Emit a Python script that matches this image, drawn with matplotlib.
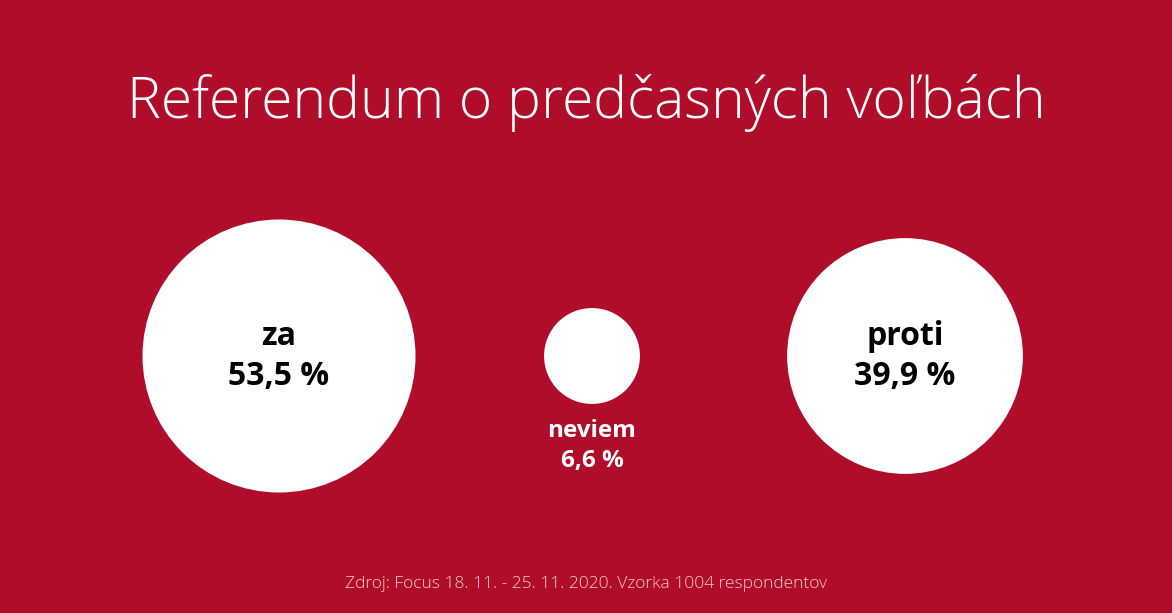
import numpy as np
import matplotlib.pyplot as plt
from matplotlib.patches import Circle

# Data
labels = ['za', 'neviem', 'proti']
values = [53.5, 6.6, 39.9]
value_texts = ['53,5 %', '6,6 %', '39,9 %']
title = 'Referendum o predčasných voľbách'
source = 'Zdroj: Focus 18. 11. - 25. 11. 2020. Vzorka 1004 respondentov'

bg = '#b00d2a'
W, H = 1172, 613

fig = plt.figure(figsize=(W / 100, H / 100), dpi=100, facecolor=bg)
ax = fig.add_axes([0, 0, 1, 1])
ax.set_xlim(0, W)
ax.set_ylim(H, 0)
ax.set_aspect('equal')
ax.axis('off')

# circle area proportional to value
scale = 136.5 / np.sqrt(max(values))
centers_x = [279, 592, 905]
cy = 356

for lab, v, vt, cx in zip(labels, values, value_texts, centers_x):
    r = scale * np.sqrt(v)
    ax.add_patch(Circle((cx, cy), r, facecolor='white', edgecolor='none'))
    if r > 80:
        # big circles: label inside
        ax.text(cx, cy - 11, lab, ha='center', va='baseline', fontsize=23,
                fontweight='bold', family='Open Sans', color='black')
        ax.text(cx, cy + 29, vt, ha='center', va='baseline', fontsize=23,
                fontweight='bold', family='Open Sans', color='black')
    else:
        # small circle: label below
        ax.text(cx, cy + r + 33, lab, ha='center', va='baseline', fontsize=17.5,
                fontweight='bold', family='Open Sans', color='white')
        ax.text(cx, cy + r + 63, vt, ha='center', va='baseline', fontsize=17.5,
                fontweight='bold', family='Open Sans', color='white')

ax.text(586, 118, title, ha='center', va='baseline', fontsize=41,
        fontweight='light', family='Open Sans', color='white')
ax.text(586, 588, source, ha='center', va='baseline', fontsize=12.5,
        fontweight='light', family='Open Sans', color='#f3c9d0')

fig.savefig('out.png', dpi=100, facecolor=bg)
